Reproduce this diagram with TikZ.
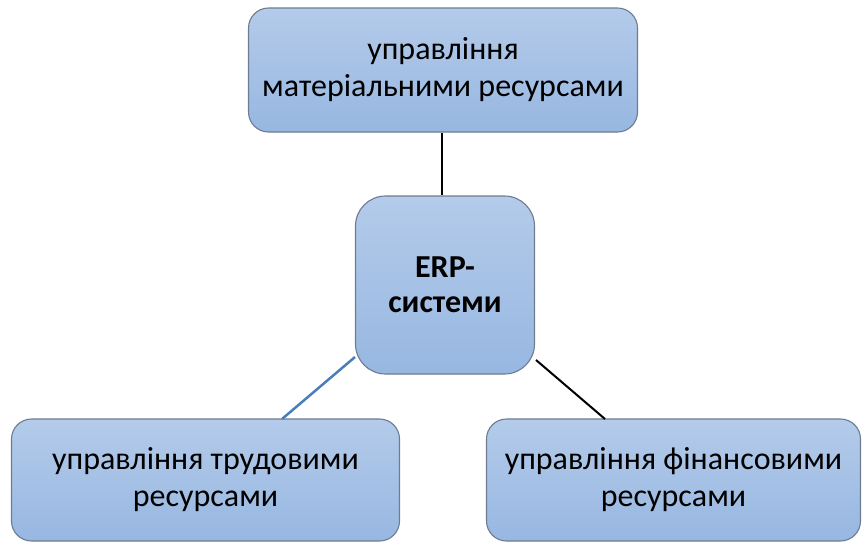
\documentclass[tikz,border=0pt]{standalone}
\usepackage{fontspec}
\setmainfont{Carlito}
\definecolor{boxtop}{HTML}{B4CBEA}
\definecolor{boxbot}{HTML}{97B7E1}
\definecolor{boxline}{HTML}{6D7C90}
\definecolor{bluelink}{HTML}{4A7EBB}
\tikzset{
  rbox/.style={draw=boxline, line width=1.1pt, rounded corners=20pt,
    top color=boxtop, bottom color=boxbot, align=center,
    font=\fontsize{32}{37}\selectfont, inner sep=0pt},
  link/.style={line width=2pt, black},
}
\begin{document}
\begin{tikzpicture}[x=1pt,y=-1pt]
\useasboundingbox (0,0) rectangle (862,542);
\node[rbox, minimum width=389pt, minimum height=124pt] (top) at (443,70)
  {управління\\матеріальними ресурсами};
\node[rbox, rounded corners=30pt, minimum width=179pt, minimum height=178pt,
  font=\fontsize{32}{35}\selectfont\bfseries] (erp) at (445,285) {ERP-\\системи};
\node[rbox, minimum width=388pt, minimum height=122pt] (lab) at (205.5,480)
  {управління трудовими\\ресурсами};
\node[rbox, minimum width=374pt, minimum height=122pt] (fin) at (673.5,480)
  {управління фінансовими\\ресурсами};
\coordinate (lstart) at (355,357);
\coordinate (lend) at (282,419);
\coordinate (rstart) at (536,360);
\coordinate (rend) at (605,419);
\draw[link] (top.south -| 442,0) -- (erp.north -| 442,0);
\draw[line width=2.5pt, bluelink] (lstart) -- (lend);
\draw[link] (rstart) -- (rend);
\end{tikzpicture}
\end{document}
